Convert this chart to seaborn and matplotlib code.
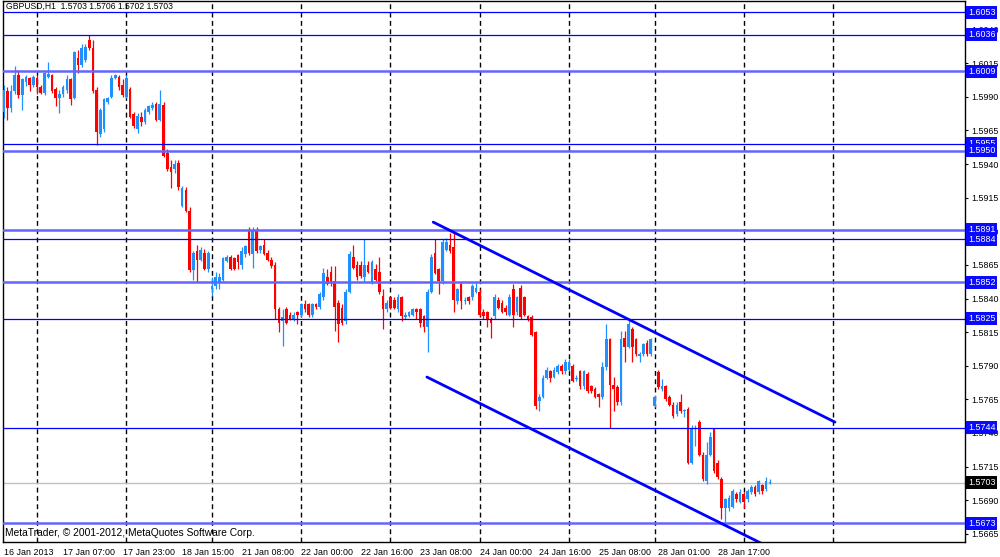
import numpy as np
import pandas as pd
import matplotlib
matplotlib.use("Agg")
import matplotlib.pyplot as plt
import matplotlib.transforms as mtransforms
import seaborn as sns

# GBPUSD H1 bars (one value per hourly bar)
opens = [
    1.5979, 1.5994, 1.5982, 1.5994, 1.6006, 1.5991, 1.6001, 1.6004, 1.5999, 1.6004,
    1.5997, 1.5993, 1.6005, 1.6006, 1.5996, 1.5989, 1.5992, 1.5995, 1.6003, 1.5989,
    1.6019, 1.6014, 1.6017, 1.6032, 1.6026, 1.5995, 1.5962, 1.5966, 1.5986, 1.5990,
    1.6004, 1.6005, 1.5999, 1.5990, 1.5996, 1.5977, 1.5966, 1.5975, 1.5971, 1.5979,
    1.5982, 1.5985, 1.5973, 1.5984, 1.5948, 1.5938, 1.5936, 1.5941, 1.5909, 1.5921,
    1.5905, 1.5861, 1.5875, 1.5869, 1.5874, 1.5862, 1.5847, 1.5849, 1.5852, 1.5854,
    1.5868, 1.5871, 1.5870, 1.5872, 1.5865, 1.5873, 1.5890, 1.5873, 1.5890, 1.5876,
    1.5880, 1.5874, 1.5869, 1.5865, 1.5832, 1.5823, 1.5832, 1.5828, 1.5825, 1.5830,
    1.5828, 1.5836, 1.5836, 1.5828, 1.5836, 1.5834, 1.5841, 1.5856, 1.5860, 1.5853,
    1.5837, 1.5833, 1.5823, 1.5845, 1.5871, 1.5865, 1.5865, 1.5856, 1.5865, 1.5852,
    1.5862, 1.5860, 1.5842, 1.5832, 1.5841, 1.5839, 1.5832, 1.5841, 1.5826, 1.5827,
    1.5828, 1.5832, 1.5832, 1.5827, 1.5819, 1.5845, 1.5874, 1.5862, 1.5853, 1.5876,
    1.5880, 1.5878, 1.5838, 1.5851, 1.5838, 1.5841, 1.5841, 1.5845, 1.5845, 1.5830,
    1.5830, 1.5825, 1.5827, 1.5839, 1.5837, 1.5833, 1.5828, 1.5847, 1.5830, 1.5848,
    1.5841, 1.5827, 1.5826, 1.5815, 1.5764, 1.5767, 1.5781, 1.5786, 1.5782, 1.5785,
    1.5790, 1.5786, 1.5787, 1.5790, 1.5780, 1.5786, 1.5775, 1.5784, 1.5775, 1.5773,
    1.5769, 1.5767, 1.5789, 1.5810, 1.5776, 1.5774, 1.5763, 1.5811, 1.5804, 1.5817,
    1.5810, 1.5797, 1.5799, 1.5807, 1.5799, 1.5760, 1.5785, 1.5773, 1.5775, 1.5767,
    1.5761, 1.5754, 1.5763, 1.5756, 1.5758, 1.5718, 1.5743, 1.5748, 1.5724, 1.5704,
    1.5724, 1.5743, 1.5718, 1.5706, 1.5684, 1.5684, 1.5685, 1.5695, 1.5689, 1.5695,
    1.5691, 1.5696, 1.5700, 1.5696, 1.5701, 1.5698, 1.5703,
]
highs = [
    1.5999, 1.5997, 1.5999, 1.6013, 1.6010, 1.6004, 1.6006, 1.6005, 1.6006, 1.6006,
    1.5999, 1.6009, 1.6016, 1.6007, 1.5997, 1.5995, 1.5999, 1.6006, 1.6004, 1.6024,
    1.6025, 1.6029, 1.6029, 1.6036, 1.6032, 1.5997, 1.5982, 1.5989, 1.5990, 1.6006,
    1.6007, 1.6006, 1.6003, 1.6006, 1.5997, 1.5979, 1.5978, 1.5979, 1.5982, 1.5984,
    1.5986, 1.5986, 1.5995, 1.5986, 1.5951, 1.5943, 1.5943, 1.5943, 1.5924, 1.5923,
    1.5908, 1.5875, 1.5880, 1.5878, 1.5877, 1.5875, 1.5856, 1.5860, 1.5859, 1.5871,
    1.5872, 1.5872, 1.5871, 1.5873, 1.5878, 1.5880, 1.5893, 1.5893, 1.5893, 1.5880,
    1.5884, 1.5876, 1.5871, 1.5867, 1.5834, 1.5832, 1.5834, 1.5830, 1.5830, 1.5831,
    1.5837, 1.5839, 1.5837, 1.5837, 1.5837, 1.5845, 1.5863, 1.5862, 1.5864, 1.5864,
    1.5839, 1.5836, 1.5847, 1.5875, 1.5880, 1.5868, 1.5868, 1.5884, 1.5868, 1.5869,
    1.5866, 1.5871, 1.5847, 1.5839, 1.5842, 1.5841, 1.5843, 1.5842, 1.5830, 1.5831,
    1.5833, 1.5833, 1.5833, 1.5828, 1.5847, 1.5873, 1.5884, 1.5863, 1.5884, 1.5885,
    1.5889, 1.5890, 1.5848, 1.5852, 1.5841, 1.5842, 1.5851, 1.5852, 1.5847, 1.5832,
    1.5831, 1.5826, 1.5843, 1.5841, 1.5839, 1.5835, 1.5843, 1.5851, 1.5842, 1.5850,
    1.5842, 1.5828, 1.5828, 1.5816, 1.5769, 1.5783, 1.5789, 1.5787, 1.5789, 1.5791,
    1.5791, 1.5795, 1.5795, 1.5791, 1.5783, 1.5787, 1.5787, 1.5785, 1.5776, 1.5774,
    1.5770, 1.5793, 1.5821, 1.5811, 1.5782, 1.5776, 1.5816, 1.5816, 1.5825, 1.5819,
    1.5811, 1.5800, 1.5807, 1.5809, 1.5811, 1.5768, 1.5787, 1.5780, 1.5776, 1.5768,
    1.5763, 1.5763, 1.5769, 1.5758, 1.5759, 1.5746, 1.5746, 1.5750, 1.5726, 1.5733,
    1.5741, 1.5744, 1.5720, 1.5707, 1.5692, 1.5694, 1.5698, 1.5696, 1.5698, 1.5696,
    1.5698, 1.5701, 1.5701, 1.5705, 1.5702, 1.5707, 1.5706,
]
lows = [
    1.5974, 1.5973, 1.5979, 1.5992, 1.5989, 1.5980, 1.5998, 1.5994, 1.5997, 1.5992,
    1.5992, 1.5991, 1.6004, 1.5993, 1.5983, 1.5978, 1.5990, 1.5993, 1.5984, 1.5988,
    1.6008, 1.6012, 1.6016, 1.6025, 1.5993, 1.5954, 1.5960, 1.5964, 1.5985, 1.5989,
    1.6003, 1.5995, 1.5990, 1.5989, 1.5974, 1.5967, 1.5963, 1.5968, 1.5970, 1.5977,
    1.5980, 1.5972, 1.5972, 1.5945, 1.5935, 1.5922, 1.5933, 1.5921, 1.5908, 1.5904,
    1.5860, 1.5854, 1.5852, 1.5868, 1.5861, 1.5860, 1.5842, 1.5847, 1.5847, 1.5853,
    1.5867, 1.5861, 1.5861, 1.5862, 1.5862, 1.5871, 1.5872, 1.5863, 1.5874, 1.5874,
    1.5872, 1.5868, 1.5863, 1.5825, 1.5815, 1.5805, 1.5821, 1.5824, 1.5823, 1.5821,
    1.5826, 1.5830, 1.5826, 1.5826, 1.5832, 1.5832, 1.5839, 1.5850, 1.5849, 1.5816,
    1.5808, 1.5820, 1.5821, 1.5844, 1.5862, 1.5854, 1.5855, 1.5852, 1.5859, 1.5851,
    1.5853, 1.5843, 1.5817, 1.5830, 1.5832, 1.5832, 1.5830, 1.5823, 1.5825, 1.5826,
    1.5827, 1.5825, 1.5819, 1.5815, 1.5800, 1.5844, 1.5858, 1.5843, 1.5851, 1.5875,
    1.5874, 1.5830, 1.5836, 1.5832, 1.5836, 1.5836, 1.5839, 1.5844, 1.5827, 1.5825,
    1.5819, 1.5811, 1.5825, 1.5832, 1.5829, 1.5828, 1.5827, 1.5819, 1.5828, 1.5825,
    1.5827, 1.5823, 1.5812, 1.5758, 1.5756, 1.5766, 1.5780, 1.5778, 1.5781, 1.5784,
    1.5784, 1.5784, 1.5786, 1.5778, 1.5779, 1.5773, 1.5773, 1.5770, 1.5770, 1.5766,
    1.5759, 1.5765, 1.5787, 1.5744, 1.5756, 1.5761, 1.5761, 1.5793, 1.5803, 1.5793,
    1.5797, 1.5793, 1.5797, 1.5797, 1.5797, 1.5759, 1.5773, 1.5771, 1.5764, 1.5760,
    1.5751, 1.5753, 1.5755, 1.5752, 1.5717, 1.5717, 1.5730, 1.5723, 1.5704, 1.5702,
    1.5723, 1.5710, 1.5706, 1.5676, 1.5674, 1.5682, 1.5684, 1.5689, 1.5688, 1.5684,
    1.5689, 1.5695, 1.5693, 1.5695, 1.5695, 1.5697, 1.5702,
]
closes = [
    1.5995, 1.5982, 1.5994, 1.6006, 1.5991, 1.6003, 1.6005, 1.5999, 1.6005, 1.5997,
    1.5993, 1.6008, 1.6007, 1.5994, 1.5989, 1.5992, 1.5997, 1.6003, 1.5988, 1.6023,
    1.6014, 1.6026, 1.6027, 1.6026, 1.5994, 1.5964, 1.5980, 1.5988, 1.5989, 1.6004,
    1.6006, 1.5997, 1.5991, 1.6004, 1.5975, 1.5968, 1.5976, 1.5971, 1.5980, 1.5983,
    1.5984, 1.5973, 1.5985, 1.5946, 1.5936, 1.5934, 1.5940, 1.5923, 1.5922, 1.5905,
    1.5861, 1.5874, 1.5869, 1.5876, 1.5862, 1.5874, 1.5849, 1.5856, 1.5856, 1.5870,
    1.5871, 1.5862, 1.5862, 1.5867, 1.5875, 1.5879, 1.5874, 1.5890, 1.5875, 1.5879,
    1.5873, 1.5869, 1.5864, 1.5832, 1.5822, 1.5826, 1.5822, 1.5825, 1.5828, 1.5828,
    1.5836, 1.5832, 1.5828, 1.5836, 1.5834, 1.5843, 1.5859, 1.5851, 1.5852, 1.5834,
    1.5821, 1.5822, 1.5845, 1.5873, 1.5863, 1.5856, 1.5857, 1.5865, 1.5860, 1.5867,
    1.5854, 1.5845, 1.5832, 1.5837, 1.5833, 1.5833, 1.5841, 1.5827, 1.5828, 1.5830,
    1.5832, 1.5830, 1.5822, 1.5819, 1.5845, 1.5871, 1.5859, 1.5853, 1.5882, 1.5882,
    1.5875, 1.5839, 1.5847, 1.5838, 1.5839, 1.5838, 1.5849, 1.5848, 1.5828, 1.5827,
    1.5825, 1.5822, 1.5841, 1.5833, 1.5830, 1.5830, 1.5841, 1.5828, 1.5841, 1.5826,
    1.5828, 1.5825, 1.5813, 1.5760, 1.5767, 1.5781, 1.5787, 1.5781, 1.5787, 1.5790,
    1.5786, 1.5793, 1.5793, 1.5779, 1.5781, 1.5775, 1.5786, 1.5771, 1.5771, 1.5767,
    1.5767, 1.5789, 1.5810, 1.5776, 1.5773, 1.5763, 1.5810, 1.5804, 1.5821, 1.5804,
    1.5799, 1.5799, 1.5806, 1.5799, 1.5810, 1.5767, 1.5774, 1.5775, 1.5765, 1.5761,
    1.5753, 1.5761, 1.5756, 1.5757, 1.5718, 1.5744, 1.5744, 1.5724, 1.5706, 1.5724,
    1.5737, 1.5712, 1.5707, 1.5684, 1.5691, 1.5692, 1.5697, 1.5691, 1.5696, 1.5689,
    1.5697, 1.5700, 1.5695, 1.5704, 1.5697, 1.5704, 1.5703,
]

# horizontal levels drawn on the chart
levels_thin = [1.6053, 1.6036, 1.5955, 1.5884, 1.5825, 1.5744]
levels_thick = [1.6009, 1.5950, 1.5891, 1.5852, 1.5673]
last_price = 1.5703

# descending channel (bar index, price)
chan_top_x = [115.5, 223.5]
chan_top_y = [1.58968, 1.57481]
chan_bot_x = [113.8, 208.7]
chan_bot_y = [1.57816, 1.56511]

# time axis
day_lines = [9, 33, 56, 80, 104, 128, 152, 175, 199, 223]
label_bars = [0, 16, 32, 48, 64, 80, 96, 112, 128, 144, 160, 176, 192]
label_text = ["16 Jan 2013", "17 Jan 07:00", "17 Jan 23:00", "18 Jan 15:00",
              "21 Jan 08:00", "22 Jan 00:00", "22 Jan 16:00", "23 Jan 08:00",
              "24 Jan 00:00", "24 Jan 16:00", "25 Jan 08:00", "28 Jan 01:00",
              "28 Jan 17:00"]
price_ticks = [1.6040, 1.6015, 1.5990, 1.5965, 1.5940, 1.5915, 1.5890, 1.5865,
               1.5840, 1.5815, 1.5790, 1.5765, 1.5740, 1.5715, 1.5690, 1.5665]

title = "GBPUSD,H1  1.5703 1.5706 1.5702 1.5703"
footer = "MetaTrader, \u00a9 2001-2012, MetaQuotes Software Corp."

sns.set_style("white")
plt.rcParams["font.family"] = ["Liberation Sans", "DejaVu Sans"]

bull = "#1e90ff"
bear = "#ff0000"
line_blue = "#0000ff"
thick_blue = "#6464ff"
fs = 6.4

df = pd.DataFrame({"open": opens, "high": highs, "low": lows, "close": closes})
df["bar"] = np.arange(len(df))
up = df["close"] >= df["open"]
col = np.where(up, bull, bear)

fig = plt.figure(figsize=(10, 5.57), dpi=100)
ax = fig.add_axes([0.0025, 0.0278, 0.963, 0.9713])

# daily separators
for b in day_lines:
    ax.axvline(b, color="black", lw=1.0, ls=(0, (3.5, 2.5)), zorder=1)

# candles
ax.vlines(df["bar"], df["low"], df["high"], colors=col, lw=0.9, zorder=3)
body_lo = np.minimum(df["open"], df["close"])
body_h = np.maximum((df["close"] - df["open"]).abs(), 0.00008)
ax.bar(df["bar"], body_h, bottom=body_lo, width=0.72, color=col, linewidth=0, zorder=3)

# levels
ax.axhline(last_price, color="#c0c0c0", lw=1.0, zorder=2)
for p in levels_thin:
    ax.axhline(p, color=line_blue, lw=0.9, zorder=4)
for p in levels_thick:
    ax.axhline(p, color=thick_blue, lw=1.8, zorder=4)

# channel
sns.lineplot(x=chan_top_x, y=chan_top_y, color=line_blue, lw=2.0, ax=ax, zorder=5)
sns.lineplot(x=chan_bot_x, y=chan_bot_y, color=line_blue, lw=2.0, ax=ax, zorder=5)

ax.set_xlim(-0.3, 258.6)
ax.set_ylim(1.56593, 1.60616)

# x axis
ax.set_xticks(label_bars)
ax.set_xticklabels(label_text, fontsize=fs, ha="left")
shift = mtransforms.ScaledTranslation(2 / 100, 0, fig.dpi_scale_trans)
for lab in ax.get_xticklabels():
    lab.set_transform(lab.get_transform() + shift)
ax.tick_params(axis="x", direction="out", length=3, width=0.8, pad=1.5, colors="black")

# y axis on the right
ax.yaxis.tick_right()
ax.set_yticks(price_ticks)
ax.set_yticklabels([f"{p:.4f}" for p in price_ticks], fontsize=fs)
ax.tick_params(axis="y", direction="out", length=2.5, width=0.8, pad=2, colors="black")
ax.set_xlabel("")
ax.set_ylabel("")

for s in ax.spines.values():
    s.set_color("black")
    s.set_linewidth(1.0)

# price tags on the right
ytr = ax.get_yaxis_transform()
tags = sorted(levels_thin + levels_thick, reverse=True)
for p in tags:
    ax.text(1.0025, p, f"{p:.4f}", transform=ytr, fontsize=fs, color="white",
            va="center", ha="left", clip_on=False, zorder=10,
            bbox=dict(boxstyle="square,pad=0.22", fc="#0a0aff", ec="none"))
ax.text(1.0025, last_price, f"{last_price:.4f}", transform=ytr, fontsize=fs,
        color="white", va="center", ha="left", clip_on=False, zorder=10,
        bbox=dict(boxstyle="square,pad=0.22", fc="black", ec="none"))

ax.text(0.0035, 0.997, title, transform=ax.transAxes, fontsize=6.2, va="top",
        ha="left", color="black", zorder=11)
ax.text(0.003, 0.006, footer, transform=ax.transAxes, fontsize=7.4,
        va="bottom", ha="left", color="black", zorder=11)

fig.savefig("out.png", dpi=100, facecolor="white")
